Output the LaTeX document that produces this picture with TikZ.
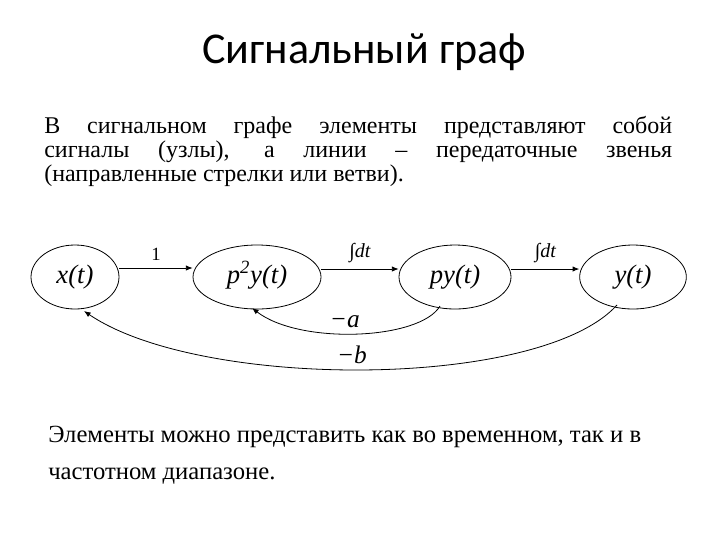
\documentclass[tikz,border=0pt]{standalone}
\usepackage{fontspec}
\setmainfont{Liberation Serif}
\newfontfamily\titlefont{Carlito}
\usetikzlibrary{shapes.geometric,arrows.meta}
\begin{document}
\begin{tikzpicture}[x=0.75pt,y=-0.75pt,
  nd/.style={ellipse,draw,line width=0.6pt,minimum height=48pt,text height=14pt,text depth=4pt,font=\fontsize{20}{20}\selectfont\itshape},
  ar/.style={draw,line width=0.6pt,-{Latex[length=5pt,width=4pt]}},
  lb/.style={font=\fontsize{15}{15}\selectfont\itshape}]
\useasboundingbox (0,0) rectangle (720,540);
\node[font=\titlefont\fontsize{33}{33}\selectfont] (title) at (364,52) {Сигнальный граф};
\node[anchor=north west,text width=628*0.75pt,align=justify,inner sep=0pt,
  font=\fontsize{18}{18}\selectfont] (para) at (44,116)
  {В сигнальном графе элементы представляют собой\linebreak сигналы (узлы), а линии – передаточные звенья\linebreak (направленные стрелки или ветви).};
\node[nd,minimum width=66pt] (x) at (75,277) {x(t)};
\node[nd,minimum width=96pt] (p2) at (257,277) {p\textsuperscript{2}y(t)};
\node[nd,minimum width=84pt] (p) at (455,277) {py(t)};
\node[nd,minimum width=80pt] (y) at (633,277) {y(t)};
\draw[ar] (x.east|-0,268) -- node[lb,above=2pt,font=\fontsize{14}{14}\selectfont\upshape]{1} (p2.west|-0,268);
\draw[ar] ([yshift=6pt]p2.east) -- node[lb,above=1pt]{∫dt} ([yshift=6pt]p.west);
\draw[ar] ([yshift=6pt]p.east) -- node[lb,above=1pt]{∫dt} ([yshift=6pt]y.west);
\coordinate (a1) at (440,306);
\coordinate (a2) at (252,308);
\draw[ar] (a1) .. controls (420,340) and (300,345) .. node[above=1pt,pos=0.55,font=\fontsize{19}{19}\selectfont\itshape]{−a} (a2);
\coordinate (b1) at (617,305);
\coordinate (b2) at (84,311);
\draw[ar] (b1) .. controls (540,390) and (200,390) .. node[above=1pt,pos=0.52,font=\fontsize{19}{19}\selectfont\itshape]{−b} (b2);
\node[anchor=north west,align=left,inner sep=0pt,
  font=\fontsize{18.5}{28}\selectfont] (bot) at (48,426)
  {Элементы можно представить как во временном, так и в\\ частотном диапазоне.};
\end{tikzpicture}
\end{document}
